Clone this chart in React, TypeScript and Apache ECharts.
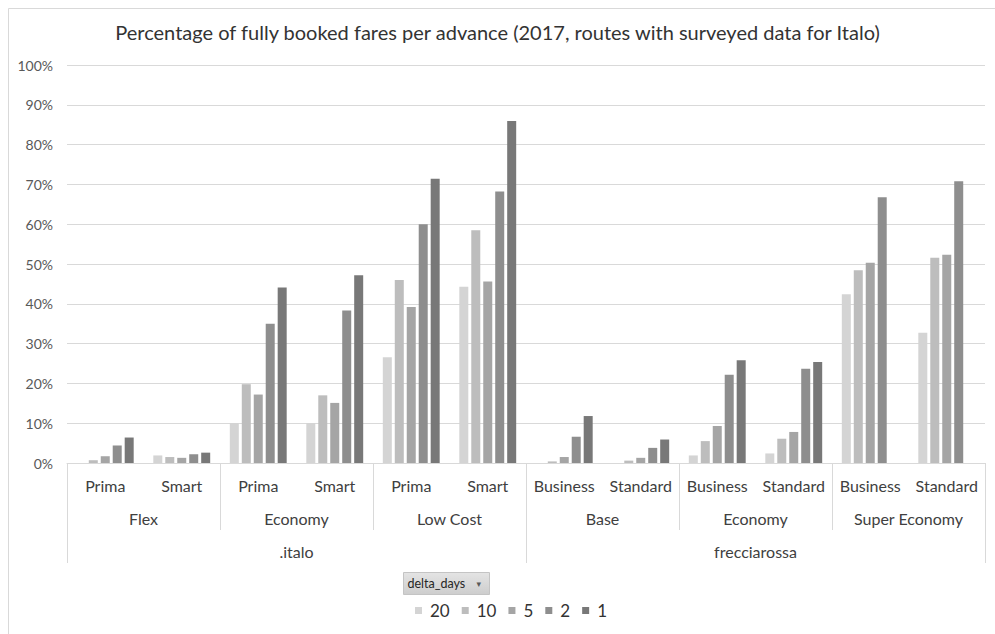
import React, { useEffect, useRef } from "react";
import * as echarts from "echarts";

const subCategories = ["Prima", "Smart", "Prima", "Smart", "Prima", "Smart", "Business", "Standard", "Business", "Standard", "Business", "Standard"];
const fareGroups = ["Flex", "Economy", "Low Cost", "Base", "Economy", "Super Economy"];
const operators = [".italo", "frecciarossa"];
const seriesNames = ["20", "10", "5", "2", "1"];
const seriesColors = ["#d4d4d4", "#bdbdbd", "#a5a5a5", "#8e8e8e", "#787878"];

const days20 = [null, 1.9, 10.0, 10.0, 26.6, 44.3, null, null, 1.9, 2.4, 42.4, 32.7];
const days10 = [0.7, 1.5, 19.8, 17.0, 46.0, 58.5, 0.4, 0.6, 5.5, 6.1, 48.4, 51.6];
const days5 = [1.7, 1.3, 17.2, 15.1, 39.2, 45.6, 1.5, 1.3, 9.3, 7.8, 50.3, 52.3];
const days2 = [4.4, 2.2, 35.0, 38.3, 60.0, 68.2, 6.6, 3.8, 22.2, 23.7, 66.8, 70.8];
const days1 = [6.4, 2.6, 44.1, 47.2, 71.4, 85.9, 11.8, 5.9, 25.8, 25.4, null, null];
const seriesValues = [days20, days10, days5, days2, days1];

const FONT = "Lato, 'Open Sans', sans-serif";

export default function App() {
  const ref = useRef<HTMLDivElement>(null);
  useEffect(() => {
    if (!ref.current) return;
    const chart = echarts.init(ref.current, undefined, { renderer: "svg" });
    const sep = "#d9d9d9";
    chart.setOption({
      animation: false,
      backgroundColor: "#ffffff",
      title: {
        text: "Percentage of fully booked fares per advance (2017, routes with surveyed data for Italo)",
        left: "center",
        top: 17,
        textStyle: { fontFamily: FONT, fontWeight: "normal", fontSize: 20, color: "#333333" },
      },
      legend: {
        data: seriesNames,
        left: 410,
        top: 597,
        icon: "rect",
        itemWidth: 7,
        itemHeight: 7,
        itemGap: 12,
        textStyle: { fontFamily: FONT, fontSize: 17, color: "#333333", padding: [0, 0, 0, 3] },
      },
      grid: { left: 67, right: 10, top: 65, bottom: 171, containLabel: false },
      yAxis: {
        type: "value",
        min: 0,
        max: 100,
        interval: 10,
        axisLine: { show: false },
        axisTick: { show: false },
        splitLine: { lineStyle: { color: sep, width: 1 } },
        axisLabel: { formatter: "{value}%", fontFamily: FONT, fontSize: 14, color: "#595959", margin: 14 },
      },
      xAxis: [
        {
          type: "category",
          data: subCategories,
          position: "bottom",
          axisLine: { show: true, lineStyle: { color: sep } },
          axisTick: { show: false },
          axisLabel: { interval: 0, fontFamily: FONT, fontSize: 16, color: "#404040", margin: 14 },
        },
        {
          type: "category",
          data: fareGroups,
          position: "bottom",
          axisLine: { show: false },
          axisTick: { show: true, length: 67, lineStyle: { color: sep } },
          axisLabel: { interval: 0, fontFamily: FONT, fontSize: 16, color: "#404040", margin: 47 },
        },
        {
          type: "category",
          data: operators,
          position: "bottom",
          axisLine: { show: false },
          axisTick: { show: true, length: 100, lineStyle: { color: sep } },
          axisLabel: { interval: 0, fontFamily: FONT, fontSize: 16, color: "#404040", margin: 80 },
        },
      ],
      series: seriesNames.map((name, i) => ({
        name,
        type: "bar",
        xAxisIndex: 0,
        data: seriesValues[i],
        barWidth: 9,
        barGap: "33%",
        itemStyle: { color: seriesColors[i] },
      })),
      graphic: [
        {
          type: "rect",
          left: 6,
          top: 6,
          shape: { width: 1200, height: 800 },
          style: { fill: "none", stroke: sep, lineWidth: 1 },
          silent: true,
        },
        {
          type: "group",
          left: 403,
          top: 572,
          children: [
            {
              type: "rect",
              shape: { x: 0, y: 0, width: 86, height: 22 },
              style: {
                fill: new echarts.graphic.LinearGradient(0, 0, 0, 1, [
                  { offset: 0, color: "#e4e4e4" },
                  { offset: 1, color: "#cdcdcd" },
                ]),
                stroke: "#c4c4c4",
                lineWidth: 1,
              },
            },
            {
              type: "text",
              x: 4,
              y: 11,
              style: { text: "delta_days", fontFamily: FONT, fontSize: 12.5, fill: "#262626", verticalAlign: "middle" },
            },
            {
              type: "text",
              x: 73,
              y: 11,
              style: { text: "▾", fontFamily: "DejaVu Sans", fontSize: 9, fill: "#595959", verticalAlign: "middle" },
            },
          ],
        },
      ],
    });
    return () => chart.dispose();
  }, []);
  return <div ref={ref} style={{ position: "fixed", left: 0, top: 0, width: 995, height: 634 }} />;
}
